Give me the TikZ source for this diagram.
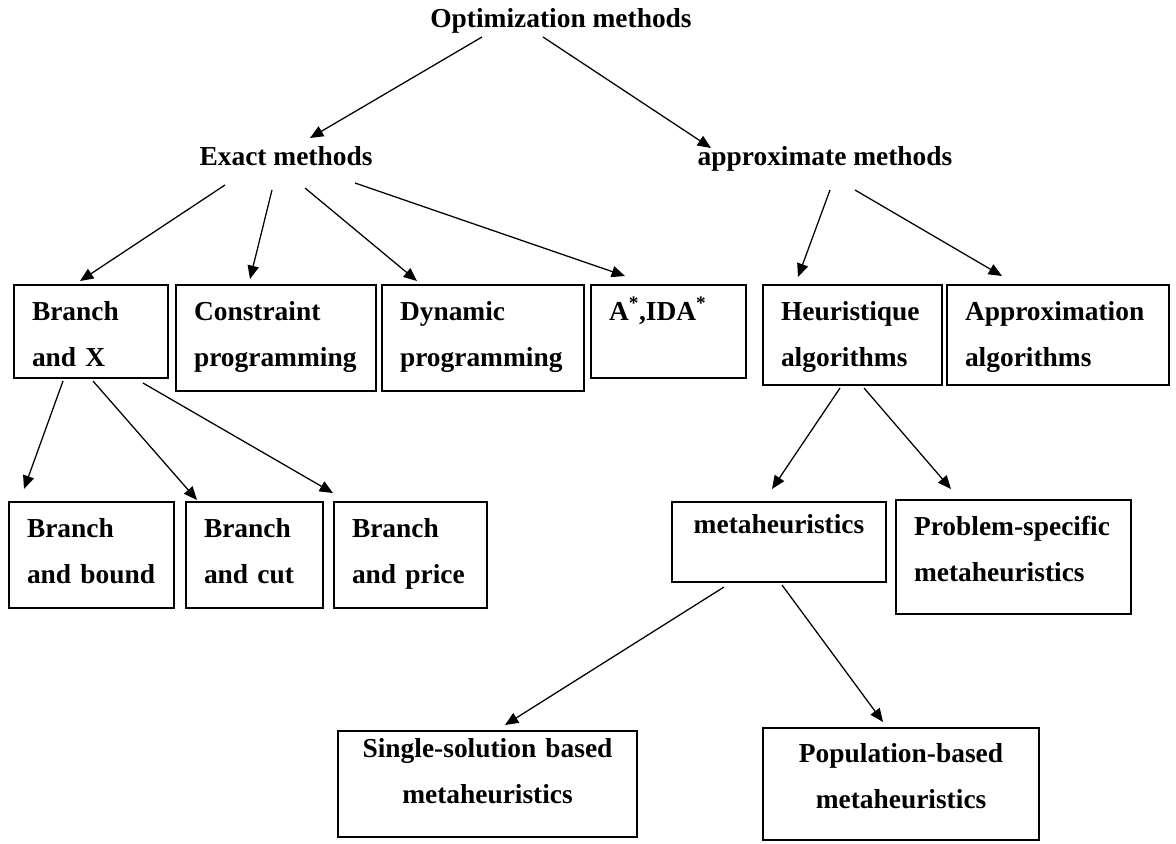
\documentclass[tikz,border=0pt]{standalone}
\usepackage{fontspec}
\setmainfont{Liberation Serif}
\usetikzlibrary{arrows.meta}
\hyphenpenalty=10000
\exhyphenpenalty=10000

\begin{document}
\begin{tikzpicture}[
    x=0.025cm, y=-0.025cm,
    every node/.style={font=\fontsize{19.5}{33}\selectfont\bfseries},
    heading/.style={anchor=base, inner sep=0pt},
    method/.style={rectangle, draw=black, line width=1.2pt, anchor=north west, outer sep=0pt, inner xsep=0.45cm, inner ysep=0pt, align=left},
    arrow/.style={-{Triangle[length=9.5pt, width=8pt]}, line width=0.9pt}
]
\useasboundingbox (0,0) rectangle (1176,843);

% Headings
\node[heading] (optim) at (561,27) {Optimization methods};
\node[heading] (exact) at (286,165) {Exact methods};
\node[heading] (approx) at (825,165) {approximate methods};

% Exact methods
\node[method, text width=2.95cm, text height=0.875cm, text depth=1.45cm] (branchx) at (14,285) {Branch\\and X};
\node[method, text width=4.1cm, text height=0.875cm, text depth=1.775cm] (constraint) at (176,285) {Constraint\\programming};
\node[method, text width=4.15cm, text height=0.875cm, text depth=1.775cm] (dynamic) at (382,285) {Dynamic\\programming};
\node[method, text width=2.975cm, text height=0.875cm, text depth=1.45cm] (astar) at (591,285) {A\textsuperscript{*},IDA\textsuperscript{*}};

% Approximate methods
\node[method, text width=3.575cm, text height=0.875cm, text depth=1.625cm] (heuristic) at (763,285) {Heuristique\\algorithms};
\node[method, text width=4.65cm, text height=0.875cm, text depth=1.625cm] (approxalg) at (947,285) {Approximation\\algorithms};

% Branch and X
\node[method, text width=3.225cm, text height=0.875cm, text depth=1.775cm] (bnb) at (9,502) {Branch\\and bound};
\node[method, text width=2.525cm, text height=0.875cm, text depth=1.775cm] (bnc) at (186,502) {Branch\\and cut};
\node[method, text width=2.925cm, text height=0.875cm, text depth=1.775cm] (bnp) at (334,502) {Branch\\and price};

% Heuristique algorithms
\node[method, align=center, text width=4.45cm, text height=0.775cm, text depth=1.225cm] (meta) at (672,502) {metaheuristics};
\node[method, text width=4.975cm, text height=0.875cm, text depth=1.975cm] (specific) at (896,500) {Problem-specific\\metaheuristics};

% Metaheuristics
\node[method, align=center, text width=6.575cm, text height=0.65cm, text depth=2cm] (single) at (338,731) {Single-solution based\\metaheuristics};
\node[method, align=center, text width=6cm, text height=0.85cm, text depth=1.95cm] (population) at (763,728) {Population-based\\metaheuristics};

% Arrows
\draw[arrow] ([shift={(-79,10)}]optim.base) -- ([shift={(24,-27)}]exact.base);
\draw[arrow] ([shift={(-18,10)}]optim.base) -- ([shift={(-114,-17)}]approx.base);

\draw[arrow] ([shift={(-61,20)}]exact.base) -- ([shift={(66,-4)}]branchx.north west);
\draw[arrow] ([shift={(-14,25)}]exact.base) -- ([shift={(74,-6)}]constraint.north west);
\draw[arrow] ([shift={(19,23)}]exact.base) -- ([shift={(35,-4)}]dynamic.north west);
\draw[arrow] ([shift={(69,18)}]exact.base) -- ([shift={(34,-9)}]astar.north west);

\draw[arrow] ([shift={(5,25)}]approx.base) -- ([shift={(35,-8)}]heuristic.north west);
\draw[arrow] ([shift={(30,25)}]approx.base) -- ([shift={(55,-9)}]approxalg.north west);

\draw[arrow] ([shift={(49,3)}]branchx.south west) -- ([shift={(15,-13)}]bnb.north west);
\draw[arrow] ([shift={(79,3)}]branchx.south west) -- ([shift={(11,-2)}]bnc.north west);
\draw[arrow] ([shift={(129,5)}]branchx.south west) -- ([shift={(-1,-9)}]bnp.north west);

\draw[arrow] ([shift={(77,3)}]heuristic.south west) -- ([shift={(100,-13)}]meta.north west);
\draw[arrow] ([shift={(101,3)}]heuristic.south west) -- ([shift={(55,-11)}]specific.north west);

\draw[arrow] ([shift={(52,5)}]meta.south west) -- ([shift={(167,-6)}]single.north west);
\draw[arrow] ([shift={(110,3)}]meta.south west) -- ([shift={(120,-6)}]population.north west);

\end{tikzpicture}
\end{document}
